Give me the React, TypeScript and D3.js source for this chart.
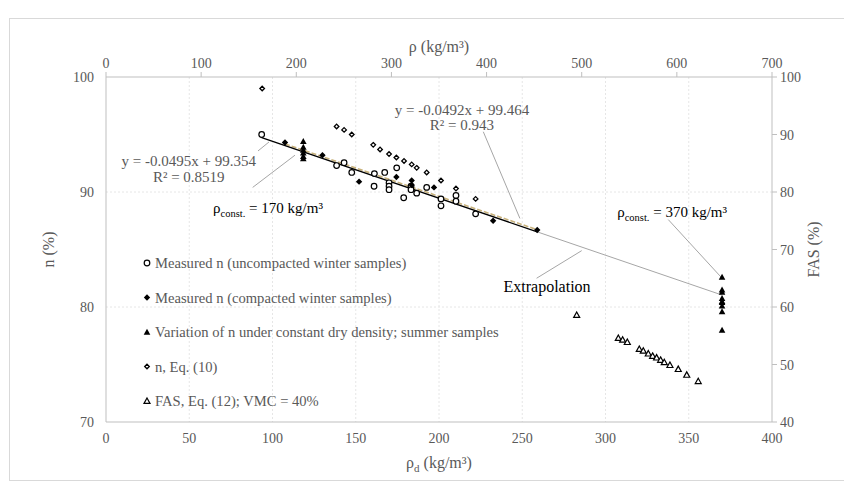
import React from "react";
import * as d3 from "d3";

// ---- data ----
const uncompactedX = [93.5, 138.5, 143, 147.6, 161.2, 167.4, 161, 170, 170, 170, 174.6, 178.8, 183.2, 183.2, 186.6, 192.6, 201.2, 201.2, 210.2, 210.2, 222];
const uncompactedN = [95.0, 92.3, 92.55, 91.7, 91.6, 91.7, 90.5, 90.8, 90.5, 90.2, 92.1, 89.5, 90.5, 90.2, 89.9, 90.4, 89.4, 88.8, 89.7, 89.2, 88.1];

const compactedX = [107.5, 130, 152, 174.4, 183.6, 183.6, 197, 232.5, 259];
const compactedN = [94.3, 93.2, 90.9, 91.3, 91.0, 90.6, 90.4, 87.5, 86.7];

const summerX = [118.5, 118.5, 118.5, 118.5, 118.5, 118.5, 370, 370, 370, 370, 370, 370, 370, 370, 370];
const summerN = [94.4, 93.9, 93.65, 93.4, 93.1, 92.9, 82.6, 81.5, 81.3, 80.75, 80.5, 80.4, 80.1, 79.6, 78.0];

const eq10X = [93.8, 138.5, 143, 147.6, 160.5, 164.6, 170, 174.4, 179, 183.6, 186.6, 192.6, 201.2, 210.2, 222];
const eq10N = [99.0, 95.7, 95.4, 95.0, 94.1, 93.7, 93.3, 93.0, 92.7, 92.4, 92.1, 91.7, 91.0, 90.3, 89.4];

const fasX = [282.7, 307.7, 310.3, 313.1, 320.3, 322.7, 325.7, 328.3, 330.7, 333.1, 335.3, 338.7, 343.7, 348.8, 355.7];
const fasV = [58.6, 54.6, 54.3, 53.9, 52.7, 52.4, 51.9, 51.5, 51.2, 50.8, 50.4, 49.9, 49.2, 48.2, 47.1];

const bottomTicks = [0, 50, 100, 150, 200, 250, 300, 350, 400];
const topTicks = [0, 100, 200, 300, 400, 500, 600, 700];
const leftTicks = [70, 80, 90, 100];
const rightTicks = [40, 50, 60, 70, 80, 90, 100];

const trend1 = { slope: -0.0495, intercept: 99.354, x0: 93.5, x1: 259 };
const trend2 = { slope: -0.0492, intercept: 99.464, x0: 107.5, x1: 259 };
const extrap = { x0: 259, x1: 370 };

const legendLabels = [
  "Measured n (uncompacted winter samples)",
  "Measured n (compacted winter samples)",
  "Variation of n under constant dry density; summer samples",
  "n, Eq. (10)",
  "FAS, Eq. (12); VMC = 40%",
];
const legendKinds = ["circle", "diamondFill", "triFill", "diamondOpen", "triOpen"];

// ---- layout ----
const W = 844, H = 484;
const L = 106, R = 772, T = 77, B = 422;
const FONT = "'Liberation Serif', 'Times New Roman', serif";
const GRAY = "#595959";

const x = d3.scaleLinear().domain([0, 400]).range([L, R]);
const xTop = d3.scaleLinear().domain([0, 700]).range([L, R]);
const y = d3.scaleLinear().domain([70, 100]).range([B, T]);
const yR = d3.scaleLinear().domain([40, 100]).range([B, T]);

function Marker({ kind, cx, cy }: { kind: string; cx: number; cy: number }) {
  if (kind === "circle")
    return <circle cx={cx} cy={cy} r={2.8} fill="#fff" stroke="#000" strokeWidth={1.2} />;
  if (kind === "diamondFill") {
    const s = 3.2;
    return <path d={`M${cx},${cy - s}L${cx + s},${cy}L${cx},${cy + s}L${cx - s},${cy}Z`} fill="#000" />;
  }
  if (kind === "diamondOpen") {
    const s = 2.3;
    return <path d={`M${cx},${cy - s}L${cx + s},${cy}L${cx},${cy + s}L${cx - s},${cy}Z`} fill="#fff" stroke="#000" strokeWidth={1.3} />;
  }
  if (kind === "triFill") {
    const s = 3.3;
    return <path d={`M${cx},${cy - s}L${cx + s},${cy + s * 0.8}L${cx - s},${cy + s * 0.8}Z`} fill="#000" />;
  }
  const s = 3;
  return <path d={`M${cx},${cy - s}L${cx + s},${cy + s * 0.8}L${cx - s},${cy + s * 0.8}Z`} fill="#fff" stroke="#000" strokeWidth={1.2} />;
}

function ConstLabel({ tx, ty, val }: { tx: number; ty: number; val: string }) {
  return (
    <text x={tx} y={ty} fontFamily={FONT} fontSize={15} fill="#000">
      ρ
      <tspan fontSize={10.5} dy={4}>const.</tspan>
      <tspan dy={-4}>{` = ${val} kg/m³`}</tspan>
    </text>
  );
}

export default function App() {
  const line = (xa: number, ya: number, xb: number, yb: number, key: string, stroke = "#a6a6a6", w = 1, dash?: string) => (
    <line key={key} x1={x(xa)} y1={y(ya)} x2={x(xb)} y2={y(yb)} stroke={stroke} strokeWidth={w} strokeDasharray={dash} />
  );
  const f = (t: { slope: number; intercept: number }, v: number) => t.slope * v + t.intercept;

  return (
    <svg width={W} height={H} style={{ position: "absolute", left: 0, top: 0, background: "#fff" }}>
      <rect x={9.5} y={18.5} width={850} height={462} fill="#fff" stroke="#d9d9d9" />
      {/* gridlines */}
      {bottomTicks.slice(1, -1).map((t) => (
        <line key={"gx" + t} x1={x(t)} x2={x(t)} y1={T} y2={B} stroke="#e6e6e6" strokeDasharray="2,2" />
      ))}
      {leftTicks.slice(1, -1).map((t) => (
        <line key={"gy" + t} x1={L} x2={R} y1={y(t)} y2={y(t)} stroke="#e6e6e6" strokeDasharray="2,2" />
      ))}
      {/* axes */}
      <line x1={L} x2={R} y1={B} y2={B} stroke="#bfbfbf" />
      <line x1={L} x2={R} y1={T} y2={T} stroke="#bfbfbf" />
      <line x1={L} x2={L} y1={T} y2={B} stroke="#bfbfbf" />
      <line x1={R} x2={R} y1={T} y2={B} stroke="#bfbfbf" />
      {topTicks.map((t) => (
        <g key={"tt" + t}>
          <line x1={xTop(t)} x2={xTop(t)} y1={T} y2={T - 5} stroke="#bfbfbf" />
          <text x={xTop(t)} y={T - 9} textAnchor="middle" fontFamily={FONT} fontSize={14} fill={GRAY}>{t}</text>
        </g>
      ))}
      {bottomTicks.map((t) => (
        <text key={"bt" + t} x={x(t)} y={B + 21} textAnchor="middle" fontFamily={FONT} fontSize={14} fill={GRAY}>{t}</text>
      ))}
      {leftTicks.map((t) => (
        <text key={"lt" + t} x={L - 12} y={y(t) + 5} textAnchor="end" fontFamily={FONT} fontSize={14} fill={GRAY}>{t}</text>
      ))}
      {rightTicks.map((t) => (
        <g key={"rt" + t}>
          <line x1={R} x2={R + 5} y1={yR(t)} y2={yR(t)} stroke="#bfbfbf" />
          <text x={R + 8} y={yR(t) + 5} textAnchor="start" fontFamily={FONT} fontSize={14} fill={GRAY}>{t}</text>
        </g>
      ))}
      {/* axis titles */}
      <text x={(L + R) / 2} y={T - 25} textAnchor="middle" fontFamily={FONT} fontSize={16} fill={GRAY}>ρ (kg/m³)</text>
      <text x={(L + R) / 2} y={B + 46} textAnchor="middle" fontFamily={FONT} fontSize={16} fill={GRAY}>
        ρ<tspan fontSize={11} dy={4}>d</tspan><tspan dy={-4}> (kg/m³)</tspan>
      </text>
      <text transform={`translate(${L - 52},${(T + B) / 2}) rotate(-90)`} textAnchor="middle" fontFamily={FONT} fontSize={16} fill={GRAY}>n (%)</text>
      <text transform={`translate(${R + 47},${(T + B) / 2}) rotate(-90)`} textAnchor="middle" fontFamily={FONT} fontSize={16} fill={GRAY}>FAS (%)</text>

      {/* trend & extrapolation */}
      {line(extrap.x0, f(trend1, extrap.x0), extrap.x1, f(trend1, extrap.x1), "ex", "#a6a6a6", 1)}
      {line(trend2.x0, f(trend2, trend2.x0), trend2.x1, f(trend2, trend2.x1), "t2", "#c8b27c", 1.6, "5,2")}
      {line(trend1.x0, f(trend1, trend1.x0), trend1.x1, f(trend1, trend1.x1), "t1", "#000", 1.3)}

      {/* leader lines */}
      {line(91.3, 93.57, 97.9, 94.35, "l1")}
      {line(88.1, 90.4, 113.5, 93.2, "l2")}
      {line(226.6, 95.24, 248.6, 87.7, "l3")}
      {line(337.7, 87.6, 369.4, 82.6, "l4")}
      {line(258.6, 82.5, 285.7, 84.9, "l5")}

      {/* data */}
      {uncompactedX.map((v, i) => <Marker key={"u" + i} kind="circle" cx={x(v)} cy={y(uncompactedN[i])} />)}
      {eq10X.map((v, i) => <Marker key={"e" + i} kind="diamondOpen" cx={x(v)} cy={y(eq10N[i])} />)}
      {compactedX.map((v, i) => <Marker key={"c" + i} kind="diamondFill" cx={x(v)} cy={y(compactedN[i])} />)}
      {summerX.map((v, i) => <Marker key={"s" + i} kind="triFill" cx={x(v)} cy={y(summerN[i])} />)}
      {fasX.map((v, i) => <Marker key={"f" + i} kind="triOpen" cx={x(v)} cy={yR(fasV[i])} />)}

      {/* annotations */}
      <text x={x(49.7)} y={y(92.7) + 5} textAnchor="middle" fontFamily={FONT} fontSize={15} fill={GRAY}>y = -0.0495x + 99.354</text>
      <text x={x(49.7)} y={y(91.3) + 5} textAnchor="middle" fontFamily={FONT} fontSize={15} fill={GRAY}>R² = 0.8519</text>
      <text x={x(213.8)} y={y(97.13) + 5} textAnchor="middle" fontFamily={FONT} fontSize={15} fill={GRAY}>y = -0.0492x + 99.464</text>
      <text x={x(213.8)} y={y(95.83) + 5} textAnchor="middle" fontFamily={FONT} fontSize={15} fill={GRAY}>R² = 0.943</text>
      <ConstLabel tx={x(64.3)} ty={y(88.6) + 5} val="170" />
      <ConstLabel tx={x(307)} ty={y(88.3) + 5} val="370" />
      <text x={x(264.9)} y={y(81.74) + 5} textAnchor="middle" fontFamily={FONT} fontSize={16} fill="#000">Extrapolation</text>

      {/* legend */}
      {legendLabels.map((lab, i) => {
        const ly = 263 + i * 34.5;
        return (
          <g key={"lg" + i}>
            <Marker kind={legendKinds[i]} cx={147} cy={ly} />
            <text x={155} y={ly + 5} fontFamily={FONT} fontSize={14.6} fill={GRAY}>{lab}</text>
          </g>
        );
      })}
    </svg>
  );
}
